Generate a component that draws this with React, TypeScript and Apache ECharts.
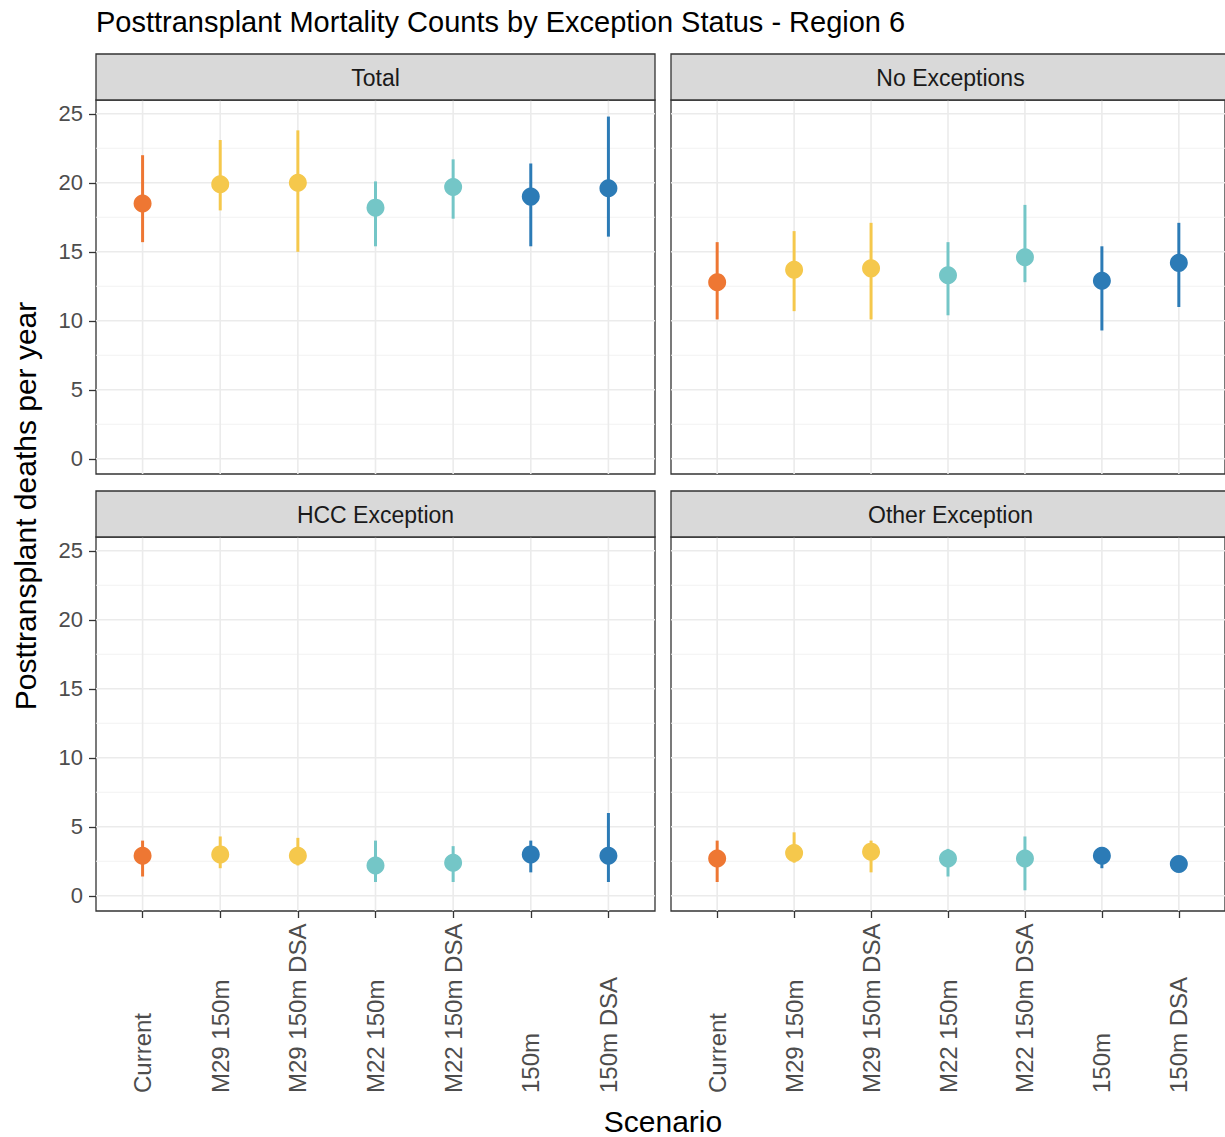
import React, { useEffect, useRef } from 'react';
import * as echarts from 'echarts';

const FONT = '"Liberation Sans", Arial, Helvetica, sans-serif';

const titleText = 'Posttransplant Mortality Counts by Exception Status - Region 6';
const yTitle = 'Posttransplant deaths per year';
const xTitle = 'Scenario';

const categories = ['Current', 'M29 150m', 'M29 150m DSA', 'M22 150m', 'M22 150m DSA', '150m', '150m DSA'];
const panelNames = ['Total', 'No Exceptions', 'HCC Exception', 'Other Exception'];

const totalMean = [18.5, 19.9, 20.0, 18.2, 19.7, 19.0, 19.6];
const totalLow = [15.7, 18.0, 15.0, 15.4, 17.4, 15.4, 16.1];
const totalHigh = [22.0, 23.1, 23.8, 20.1, 21.7, 21.4, 24.8];

const noExcMean = [12.8, 13.7, 13.8, 13.3, 14.6, 12.9, 14.2];
const noExcLow = [10.1, 10.7, 10.1, 10.4, 12.8, 9.3, 11.0];
const noExcHigh = [15.7, 16.5, 17.1, 15.7, 18.4, 15.4, 17.1];

const hccMean = [2.9, 3.0, 2.9, 2.2, 2.4, 3.0, 2.9];
const hccLow = [1.4, 2.0, 2.2, 1.0, 1.0, 1.7, 1.0];
const hccHigh = [4.0, 4.3, 4.2, 4.0, 3.6, 4.0, 6.0];

const otherMean = [2.7, 3.1, 3.2, 2.7, 2.7, 2.9, 2.3];
const otherLow = [1.0, 2.4, 1.7, 1.4, 0.4, 2.0, 1.9];
const otherHigh = [4.0, 4.6, 4.0, 3.4, 4.3, 3.5, 2.8];

const yTicks = [0, 5, 10, 15, 20, 25];
const yMinor = [2.5, 7.5, 12.5, 17.5, 22.5];
const yMin = -1.1;
const yMax = 26;

const scenarioColors = ['#EE7733', '#F5C84C', '#F5C84C', '#74C6C7', '#74C6C7', '#2C7BB6', '#2C7BB6'];

const panelData = [
  { mean: totalMean, low: totalLow, high: totalHigh },
  { mean: noExcMean, low: noExcLow, high: noExcHigh },
  { mean: hccMean, low: hccLow, high: hccHigh },
  { mean: otherMean, low: otherLow, high: otherHigh },
];

const gridPos = [
  { left: 96, top: 100 },
  { left: 671, top: 100 },
  { left: 96, top: 537 },
  { left: 671, top: 537 },
];
const GW = 559;
const GH = 374;
const STRIP_H = 46;

function buildOption() {
  const catIdx = categories.map((_, i) => i);
  const grids = gridPos.map((g) => ({
    left: g.left,
    top: g.top,
    width: GW,
    height: GH,
    show: true,
    borderColor: '#333333',
    borderWidth: 1.3,
    backgroundColor: 'transparent',
    containLabel: false,
  }));

  const xAxes = gridPos.map((_, i) => {
    const bottom = i >= 2;
    return {
      type: 'value',
      gridIndex: i,
      position: 'bottom',
      min: -0.6,
      max: 6.6,
      axisLine: { show: false, onZero: false },
      splitLine: { show: false },
      axisTick: {
        show: bottom,
        customValues: catIdx,
        length: 7,
        lineStyle: { color: '#333333', width: 1.3 },
      },
      axisLabel: {
        show: bottom,
        customValues: catIdx,
        formatter: (v: number) => categories[Math.round(v)] ?? '',
        rotate: 90,
        align: 'left',
        verticalAlign: 'middle',
        margin: 182,
        fontSize: 24,
        color: '#4D4D4D',
        fontFamily: FONT,
      },
    };
  });

  const yAxes = gridPos.map((_, i) => {
    const left = i % 2 === 0;
    return {
      type: 'value',
      gridIndex: i,
      position: 'left',
      min: yMin,
      max: yMax,
      axisLine: { show: false, onZero: false },
      splitLine: { show: false },
      axisTick: {
        show: left,
        customValues: yTicks,
        length: 7,
        lineStyle: { color: '#333333', width: 1.3 },
      },
      axisLabel: {
        show: left,
        customValues: yTicks,
        margin: 13,
        fontSize: 22,
        color: '#4D4D4D',
        fontFamily: FONT,
      },
    };
  });

  const series: any[] = [];
  panelData.forEach((pd, i) => {
    const gridItems: number[][] = [
      ...yMinor.map((v) => [0, v, 1]),
      ...yTicks.map((v) => [0, v, 0]),
      ...catIdx.map((j) => [j, 0, 2]),
    ];
    series.push({
      type: 'custom',
      xAxisIndex: i,
      yAxisIndex: i,
      silent: true,
      z: 1,
      data: gridItems,
      renderItem: (params: any, api: any) => {
        const cs = params.coordSys;
        const kind = api.value(2);
        if (kind === 2) {
          const x = api.coord([api.value(0), 0])[0];
          return {
            type: 'line',
            shape: { x1: x, y1: cs.y, x2: x, y2: cs.y + cs.height },
            style: { stroke: '#EBEBEB', lineWidth: 1.6 },
          };
        }
        const y = api.coord([0, api.value(1)])[1];
        return {
          type: 'line',
          shape: { x1: cs.x, y1: y, x2: cs.x + cs.width, y2: y },
          style: { stroke: kind === 0 ? '#EBEBEB' : '#F2F2F2', lineWidth: kind === 0 ? 1.6 : 1.1 },
        };
      },
    });
    series.push({
      type: 'custom',
      xAxisIndex: i,
      yAxisIndex: i,
      silent: true,
      z: 2,
      encode: { x: 0, y: [1, 2] },
      data: catIdx.map((j) => [j, pd.low[j], pd.high[j]]),
      renderItem: (params: any, api: any) => {
        const j = api.value(0);
        const p1 = api.coord([j, api.value(1)]);
        const p2 = api.coord([j, api.value(2)]);
        return {
          type: 'line',
          shape: { x1: p1[0], y1: p1[1], x2: p2[0], y2: p2[1] },
          style: { stroke: scenarioColors[j], lineWidth: 3 },
        };
      },
    });
    series.push({
      type: 'scatter',
      xAxisIndex: i,
      yAxisIndex: i,
      silent: true,
      z: 3,
      symbol: 'circle',
      symbolSize: 18,
      data: catIdx.map((j) => ({ value: [j, pd.mean[j]], itemStyle: { color: scenarioColors[j], opacity: 1 } })),
    });
  });

  const graphics: any[] = [];
  gridPos.forEach((g, i) => {
    graphics.push({
      type: 'rect',
      shape: { x: g.left, y: g.top - STRIP_H, width: GW, height: STRIP_H },
      style: { fill: '#D9D9D9', stroke: '#333333', lineWidth: 1.3 },
      z: 10,
    });
    graphics.push({
      type: 'text',
      x: g.left + GW / 2,
      y: g.top - STRIP_H / 2 + 1,
      z: 11,
      style: {
        text: panelNames[i],
        fontSize: 23,
        fontFamily: FONT,
        fill: '#1A1A1A',
        align: 'center',
        verticalAlign: 'middle',
      },
    });
  });
  graphics.push({
    type: 'text',
    x: 96,
    y: 22,
    style: { text: titleText, fontSize: 29, fontFamily: FONT, fill: '#000000', align: 'left', verticalAlign: 'middle' },
  });
  graphics.push({
    type: 'text',
    x: 25,
    y: 506,
    rotation: Math.PI / 2,
    style: { text: yTitle, fontSize: 30, fontFamily: FONT, fill: '#000000', align: 'center', verticalAlign: 'middle' },
  });
  graphics.push({
    type: 'text',
    x: 663,
    y: 1121,
    style: { text: xTitle, fontSize: 30, fontFamily: FONT, fill: '#000000', align: 'center', verticalAlign: 'middle' },
  });

  return {
    animation: false,
    backgroundColor: '#FFFFFF',
    textStyle: { fontFamily: FONT },
    grid: grids,
    xAxis: xAxes,
    yAxis: yAxes,
    series,
    graphic: graphics,
  };
}

export default function App() {
  const ref = useRef<HTMLDivElement>(null);
  useEffect(() => {
    if (!ref.current) return;
    const chart = echarts.init(ref.current, null, { renderer: 'svg' });
    chart.setOption(buildOption() as any);
    return () => chart.dispose();
  }, []);
  return (
    <div
      ref={ref}
      style={{ position: 'absolute', left: 0, top: 0, width: 1225, height: 1137, background: '#fff' }}
    />
  );
}
